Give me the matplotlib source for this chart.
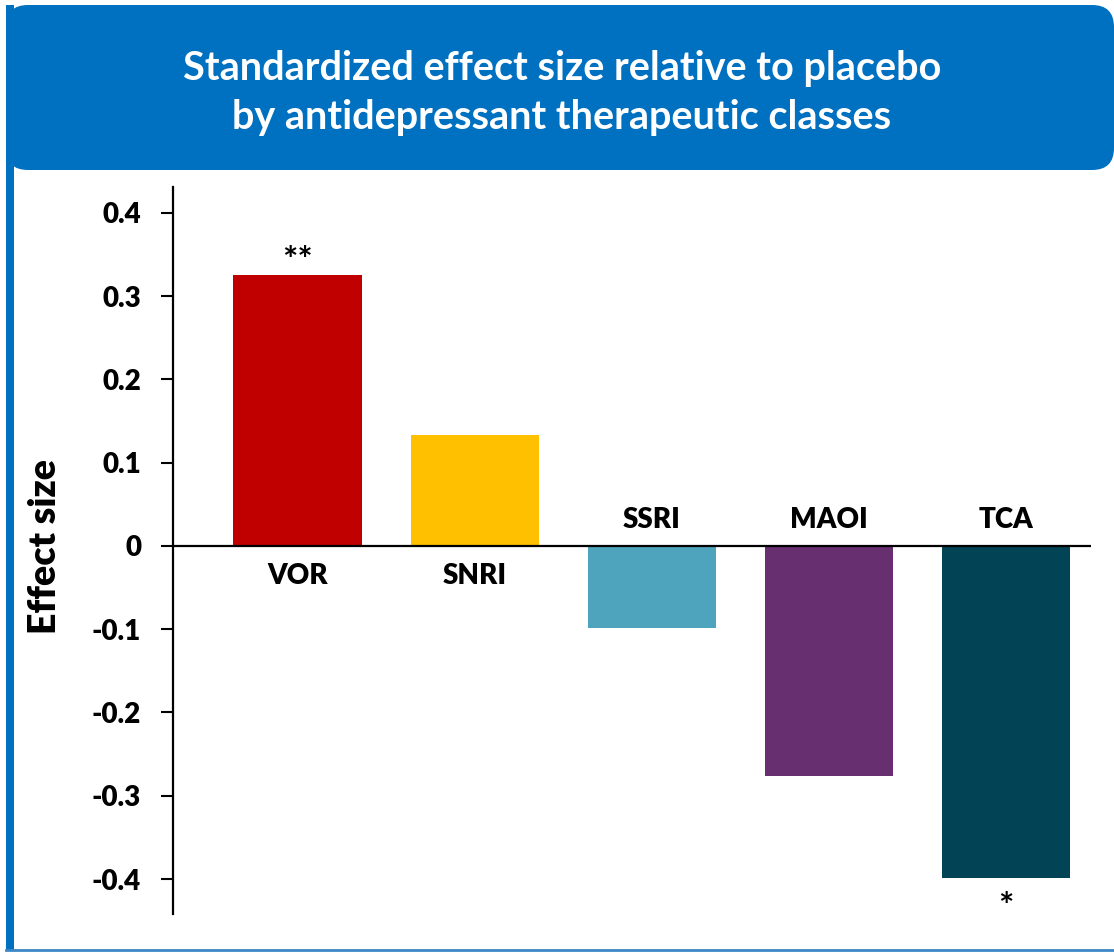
import matplotlib
matplotlib.use("Agg")
import matplotlib.pyplot as plt
from matplotlib.patches import FancyBboxPatch, Rectangle

plt.rcParams['font.family'] = ['Lato', 'DejaVu Sans']
plt.rcParams['font.weight'] = 'heavy'

# data
classes = ["VOR", "SNRI", "SSRI", "MAOI", "TCA"]
effect = [0.325, 0.133, -0.099, -0.276, -0.399]
colors = ["#C00000", "#FFC000", "#4EA3BD", "#672E70", "#024355"]
marks = ["**", "", "", "", "*"]
yticks = [-0.4, -0.3, -0.2, -0.1, 0, 0.1, 0.2, 0.3, 0.4]
ytick_labels = ["-0.4", "-0.3", "-0.2", "-0.1", "0", "0.1", "0.2", "0.3", "0.4"]
title = "Standardized effect size relative to placebo\nby antidepressant therapeutic classes"

W, H = 1114, 952
fig = plt.figure(figsize=(W / 100, H / 100), dpi=100)

# blue frame + header (pixel coords)
bg = fig.add_axes([0, 0, 1, 1])
bg.set_xlim(0, W)
bg.set_ylim(H, 0)
bg.axis("off")
bg.add_patch(Rectangle((6, 5), 8, 945, color="#0070C0", lw=0))
bg.add_patch(FancyBboxPatch((6, 5), 1108, 165, boxstyle="round,pad=0,rounding_size=22",
                            color="#0070C0", lw=0))
bg.plot([6, W], [950, 950], color="#3D87C9", lw=2)
bg.text(562, 93, title, color="white", fontsize=28.5, fontweight="bold",
        ha="center", va="center", linespacing=1.4)

# chart
ax = fig.add_axes([173 / W, 1 - 914 / H, (1091 - 173) / W, (914 - 187) / H])
x = list(range(len(classes)))
ax.bar(x, effect, width=0.723, color=colors)
ax.axhline(0, color="black", lw=1.6)
ax.set_xlim(-0.703, 4.48)
ax.set_ylim(-0.442, 0.431)

ax.set_yticks(yticks, ytick_labels)
ax.set_xticks([])
ax.tick_params(axis="y", length=9, width=1.5, pad=14, labelsize=20)
for s in ["top", "right", "bottom"]:
    ax.spines[s].set_visible(False)
ax.spines["left"].set_linewidth(1.6)

# category labels and significance marks
for i, v in enumerate(effect):
    if v >= 0:
        ax.annotate(classes[i], (i, 0), xytext=(0, -22), textcoords="offset points",
                    ha="center", va="center", fontsize=20)
        ax.annotate(marks[i], (i, v), xytext=(0, 10), textcoords="offset points",
                    ha="center", va="center", fontsize=26, fontweight="bold")
    else:
        ax.annotate(classes[i], (i, 0), xytext=(0, 19), textcoords="offset points",
                    ha="center", va="center", fontsize=20)
        ax.annotate(marks[i], (i, v), xytext=(0, -21), textcoords="offset points",
                    ha="center", va="center", fontsize=26, fontweight="bold")

fig.text(45 / W, 1 - 546 / H, "Effect size", rotation=90, ha="center", va="center", fontsize=27)

fig.savefig("out.png", dpi=100)
